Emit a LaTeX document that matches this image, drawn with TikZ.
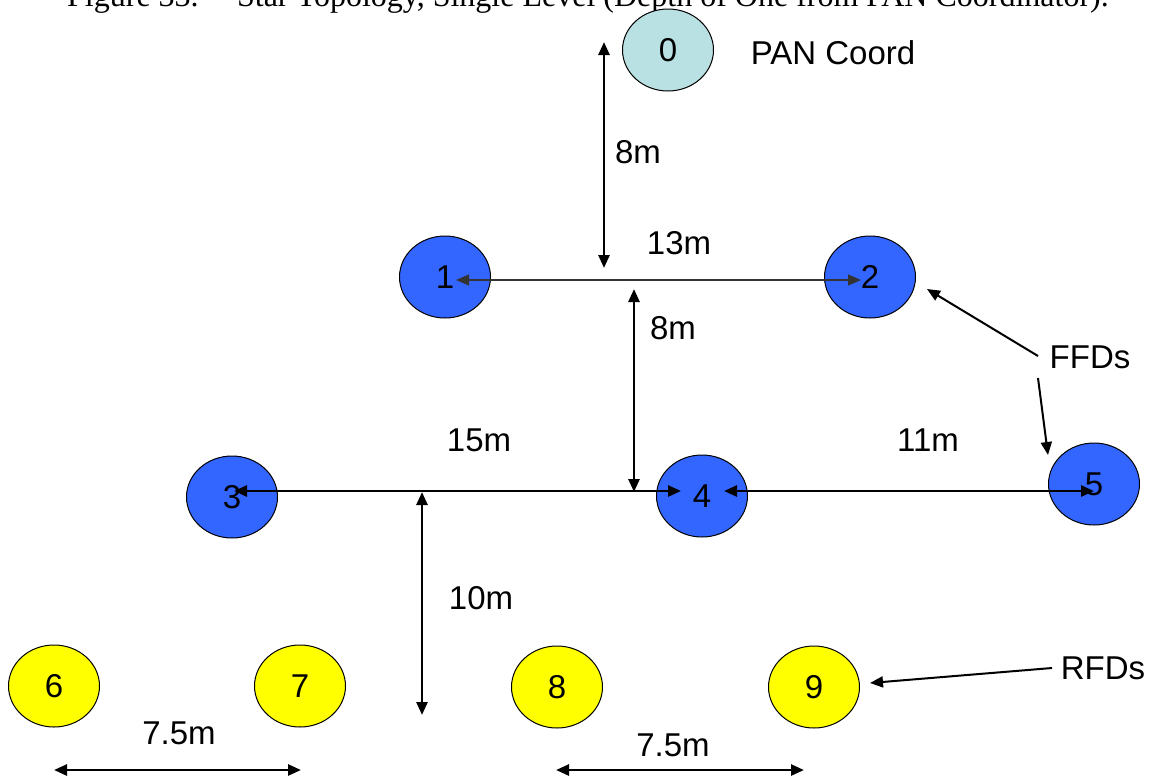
\documentclass[tikz,border=0pt]{standalone}
\usepackage{fontspec}
\setmainfont{Liberation Sans}
\newfontfamily\capfont{Liberation Serif}
\usetikzlibrary{shapes.geometric,arrows.meta,calc}
\definecolor{pancol}{RGB}{185,224,227}
\definecolor{ffdcol}{RGB}{51,102,255}
\definecolor{rfdcol}{RGB}{255,255,0}
\tikzset{
  dev/.style={ellipse, draw=black, line width=1pt, minimum width=91pt, minimum height=82pt, inner sep=0pt, font=\fontsize{33}{36}\selectfont},
  lbl/.style={font=\fontsize{33}{36}\selectfont, inner sep=0pt},
  tipA/.tip={Triangle[length=13pt,width=11pt]},
  dim/.style={line width=2.6pt, tipA-tipA},
  thin dim/.style={line width=1.4pt, draw=black!80, tipA-tipA},
  pointer/.style={line width=2pt, -tipA},
}
\begin{document}
\begin{tikzpicture}[x=1pt,y=-1pt]
\clip (0,0) rectangle (1152,780);
\fill[white] (0,0) rectangle (1152,780);
% caption (cut off at top, as in the reference)
\node[anchor=base, inner sep=0pt, font=\capfont\fontsize{32}{34}\selectfont] (cap) at (588,6) {Figure 33.\hspace{1.2em}Star Topology, Single Level (Depth of One from PAN Coordinator).};
% devices
\node[dev, fill=pancol] (n0) at (668,50) {0};
\node[dev, fill=ffdcol] (n1) at (445,277) {1};
\node[dev, fill=ffdcol] (n2) at (870,277) {2};
\node[dev, fill=ffdcol] (n3) at (232,497) {3};
\node[dev, fill=ffdcol] (n4) at (702,496) {4};
\node[dev, fill=ffdcol] (n5) at (1094,484) {5};
\node[dev, fill=rfdcol] (n6) at (54,686) {6};
\node[dev, fill=rfdcol] (n7) at (300,686) {7};
\node[dev, fill=rfdcol] (n8) at (557,687) {8};
\node[dev, fill=rfdcol] (n9) at (814,687) {9};
% labels
\node[lbl] (pan) at (833,53) {PAN Coord};
\node[lbl] (ffd) at (1090,357) {FFDs};
\node[lbl] (rfd) at (1103,668) {RFDs};
\node[lbl] (d8a) at (638,152) {8m};
\node[lbl] (d13) at (679,243) {13m};
\node[lbl] (d8b) at (673,328) {8m};
\node[lbl] (d15) at (479,440) {15m};
\node[lbl] (d11) at (928,440) {11m};
\node[lbl] (d10) at (481,598) {10m};
\node[lbl] (d75a) at (179,733) {7.5m};
\node[lbl] (d75b) at (673,745) {7.5m};
% dimension end points
\coordinate (a8t) at (604,42);
\coordinate (a8b) at (604,268);
\coordinate (a13l) at (456,280);
\coordinate (a13r) at (861,280);
\coordinate (b8t) at (634,289);
\coordinate (b8b) at (634,492);
\coordinate (a15l) at (234,491);
\coordinate (a15r) at (681,491);
\coordinate (a10t) at (422,492);
\coordinate (a10b) at (422,715);
\coordinate (a11l) at (724,491);
\coordinate (a11r) at (1094,491);
\coordinate (c6) at (54,770);
\coordinate (c7) at (301,770);
\coordinate (c8) at (556,770);
\coordinate (c9) at (804,770);
\coordinate (f1) at (1038,356);
\coordinate (f2) at (1038,378);
\coordinate (r1) at (1052,668);
% dimension arrows
\draw[dim] (a8t) -- (a8b);
\draw[thin dim] (a13l) -- (a13r);
\draw[dim] (b8t) -- (b8b);
\draw[dim] (a15l) -- (a15r);
\draw[dim] (a10t) -- (a10b);
\draw[dim] (a11l) -- (a11r);
\draw[dim] (c6) -- (c7);
\draw[dim] (c8) -- (c9);
% pointers
\draw[pointer] (f1) -- ($(n2.center)+(57,12)$);
\draw[pointer] (f2) -- ($(n5.center)+(-46,-29)$);
\draw[pointer] (r1) -- ($(n9.east)+(10,-4)$);
\end{tikzpicture}
\end{document}
